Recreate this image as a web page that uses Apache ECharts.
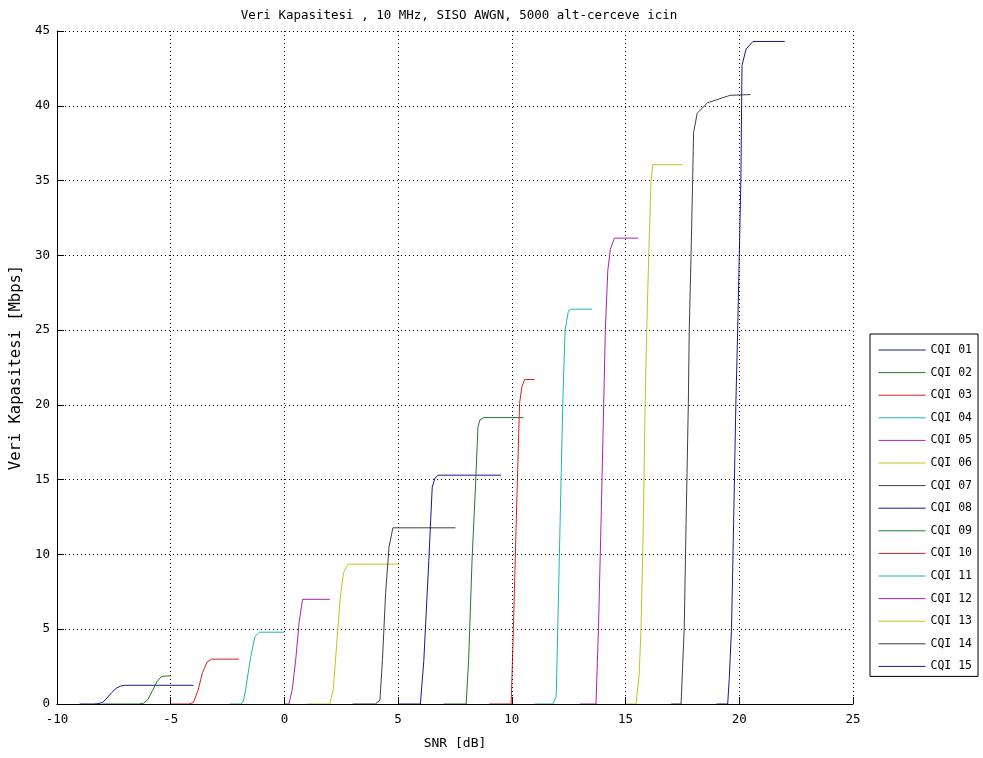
<!DOCTYPE html>
<html>
<head>
<meta charset="utf-8">
<script src="https://cdn.jsdelivr.net/npm/echarts@6/dist/echarts.min.js"></script>
<style>
html,body{margin:0;padding:0;background:#fff;}
#chart{width:983px;height:758px;}
</style>
</head>
<body>
<div id="chart"></div>
<script>
// ---- data ----
const seriesNames = ['CQI 01','CQI 02','CQI 03','CQI 04','CQI 05','CQI 06','CQI 07','CQI 08','CQI 09','CQI 10','CQI 11','CQI 12','CQI 13','CQI 14','CQI 15'];
const xTicks = [-10, -5, 0, 5, 10, 15, 20, 25];
const yTicks = [0, 5, 10, 15, 20, 25, 30, 35, 40, 45];

const snr01 = [-9.0, -8.4, -8.2, -8.0, -7.8, -7.6, -7.4, -7.2, -7.0, -4.0];
const thr01 = [0, 0, 0.02, 0.1, 0.4, 0.75, 1.05, 1.2, 1.25, 1.25];
const snr02 = [-8.0, -6.4, -6.2, -6.0, -5.8, -5.6, -5.4, -5.0];
const thr02 = [0, 0, 0.05, 0.3, 0.9, 1.5, 1.85, 1.88];
const snr03 = [-5.0, -4.2, -4.0, -3.8, -3.6, -3.4, -3.2, -2.0];
const thr03 = [0, 0, 0.1, 0.9, 2.1, 2.8, 3.0, 3.0];
const snr04 = [-2.4, -1.9, -1.8, -1.7, -1.5, -1.3, -1.1, 0.0];
const thr04 = [0, 0, 0.2, 1.0, 3.0, 4.5, 4.8, 4.8];
const snr05 = [0.0, 0.2, 0.35, 0.5, 0.65, 0.8, 2.0];
const thr05 = [0, 0, 1.0, 3.0, 5.5, 7.0, 7.0];
const snr06 = [1.0, 2.0, 2.15, 2.3, 2.45, 2.6, 2.8, 5.04];
const thr06 = [0, 0, 1.0, 4.0, 7.0, 8.8, 9.35, 9.35];
const snr07 = [3.0, 4.0, 4.2, 4.31, 4.45, 4.6, 4.77, 7.52];
const thr07 = [0, 0, 0.25, 2.9, 7.4, 10.5, 11.78, 11.78];
const snr08 = [5.0, 5.98, 6.13, 6.35, 6.5, 6.62, 6.76, 9.53];
const thr08 = [0, 0, 2.9, 9.6, 14.5, 15.1, 15.3, 15.3];
const snr09 = [7.0, 7.99, 8.1, 8.25, 8.4, 8.51, 8.6, 8.76, 10.51];
const thr09 = [0, 0, 2.9, 9.6, 14.5, 18.5, 19.0, 19.15, 19.15];
const snr10 = [9.0, 9.97, 10.07, 10.19, 10.34, 10.44, 10.56, 11.0];
const thr10 = [0, 0, 5.1, 12.0, 20.1, 21.2, 21.7, 21.7];
const snr11 = [11.0, 11.8, 11.95, 12.02, 12.12, 12.24, 12.34, 12.49, 12.61, 13.53];
const thr11 = [0, 0, 0.5, 5.1, 12.0, 20.1, 25.0, 26.3, 26.4, 26.4];
const snr12 = [13.0, 13.7, 13.81, 13.92, 14.04, 14.11, 14.22, 14.33, 14.51, 15.55];
const thr12 = [0, 0, 5.1, 12.0, 20.1, 25.0, 29.0, 30.4, 31.15, 31.15];
const snr13 = [15.0, 15.46, 15.6, 15.68, 15.78, 15.86, 15.93, 16.02, 16.12, 16.2, 17.5];
const thr13 = [0, 0, 2.0, 5.1, 12.0, 20.1, 25.0, 30.0, 35.0, 36.06, 36.06];
const snr14 = [17.0, 17.44, 17.58, 17.66, 17.76, 17.80, 17.88, 17.95, 17.99, 18.15, 18.6, 19.6, 20.5];
const thr14 = [0, 0, 5.1, 12.0, 20.1, 25.0, 30.0, 35.0, 38.2, 39.5, 40.2, 40.7, 40.75];
const snr15 = [19.0, 19.49, 19.56, 19.66, 19.75, 19.85, 19.93, 20.0, 20.07, 20.12, 20.3, 20.6, 22.0];
const thr15 = [0, 0, 1.7, 5.1, 12.0, 20.1, 25.0, 30.0, 35.0, 42.7, 43.8, 44.3, 44.3];

const snrList = [snr01, snr02, snr03, snr04, snr05, snr06, snr07, snr08, snr09, snr10, snr11, snr12, snr13, snr14, snr15];
const thrList = [thr01, thr02, thr03, thr04, thr05, thr06, thr07, thr08, thr09, thr10, thr11, thr12, thr13, thr14, thr15];

// MATLAB-like colour order (repeats every 7)
const palette = ['#18188e', '#207a2a', '#d42020', '#20b4b4', '#b020b0', '#c8c020', '#404040'];

const MONO = "'DejaVu Sans Mono', 'Liberation Mono', monospace";

const series = seriesNames.map((name, i) => ({
  name: name,
  type: 'line',
  symbol: 'none',
  showSymbol: false,
  smooth: false,
  lineStyle: { width: 1, color: palette[i % palette.length] },
  itemStyle: { color: palette[i % palette.length] },
  data: snrList[i].map((x, k) => [x, thrList[i][k]]),
  z: 2 + i
}));

const chart = echarts.init(document.getElementById('chart'), null, { renderer: 'canvas' });
chart.setOption({
  animation: false,
  backgroundColor: '#fff',
  color: palette,
  title: {
    text: 'Veri Kapasitesi , 10 MHz, SISO AWGN, 5000 alt-cerceve icin',
    left: 454,
    textAlign: 'center',
    top: 4,
    textStyle: { fontFamily: MONO, fontSize: 12.5, fontWeight: 'normal', color: '#000' }
  },
  grid: { left: 55, right: 130, top: 31, bottom: 54, containLabel: false },
  legend: {
    orient: 'vertical',
    left: 870,
    top: 334,
    data: seriesNames,
    backgroundColor: '#fff',
    borderColor: '#000',
    borderWidth: 1,
    borderRadius: 0,
    padding: [10, 6, 4, 8],
    itemWidth: 47,
    itemHeight: 14,
    itemGap: 10.6,
    itemStyle: { color: 'transparent', borderColor: 'transparent', borderWidth: 0, opacity: 0 },
    lineStyle: { width: 1 },
    textStyle: { fontFamily: MONO, fontSize: 11.5, color: '#000' }
  },
  xAxis: {
    type: 'value',
    z: 20,
    min: xTicks[0],
    max: xTicks[xTicks.length - 1],
    interval: 5,
    name: 'SNR [dB]',
    nameLocation: 'middle',
    nameGap: 33,
    nameTextStyle: { fontFamily: MONO, fontSize: 13, color: '#000' },
    axisLine: { show: true, onZero: false, lineStyle: { color: '#000', width: 1 } },
    axisTick: { show: true, inside: true, length: 7, lineStyle: { color: '#000' } },
    axisLabel: { fontFamily: MONO, fontSize: 12.5, color: '#000', margin: 9 },
    splitLine: { show: true, lineStyle: { color: '#000', width: 1, type: [1, 3] } }
  },
  yAxis: {
    type: 'value',
    min: yTicks[0],
    max: yTicks[yTicks.length - 1],
    interval: 5,
    name: 'Veri Kapasitesi [Mbps]',
    nameLocation: 'middle',
    nameGap: 30,
    nameTextStyle: { fontFamily: MONO, fontSize: 15.5, color: '#000' },
    axisLine: { show: true, onZero: false, lineStyle: { color: '#000', width: 1 } },
    axisTick: { show: true, inside: true, length: 7, lineStyle: { color: '#000' } },
    axisLabel: { fontFamily: MONO, fontSize: 12.5, color: '#000', margin: 7 },
    splitLine: { show: true, lineStyle: { color: '#000', width: 1, type: [1, 3] } }
  },
  series: series
});
</script>
</body>
</html>
